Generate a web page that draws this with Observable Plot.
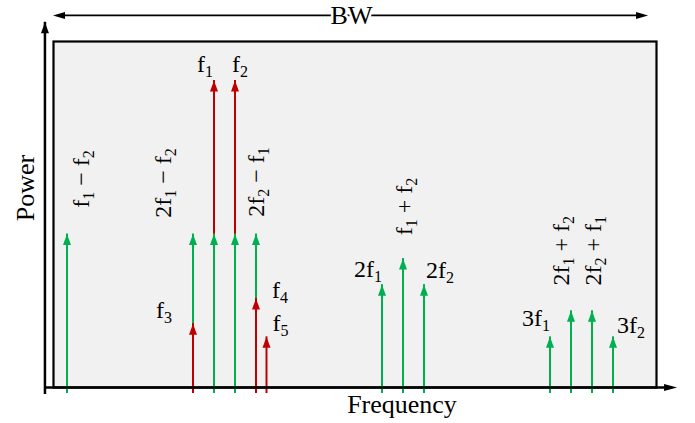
<!DOCTYPE html>
<html><head><meta charset="utf-8">
<script src="https://cdn.jsdelivr.net/npm/d3@7"></script>
<script src="https://cdn.jsdelivr.net/npm/@observablehq/plot@0.6"></script>
<style>body{margin:0;background:#fff}</style>
</head><body><div id="chart"></div>
<script>
// ---- data (schematic frequency units, relative power units) ----
const toneNames  = ["f_1", "f_2", "f_3", "f_4", "f_5"];
const toneFreq   = [8, 9, 7, 10, 10.5];
const tonePower  = [10, 10, 2.08, 2.9, 1.65];

const productNames = ["f_1 − f_2", "2f_1 − f_2", "", "", "2f_2 − f_1", "2f_1", "f_1 + f_2", "2f_2", "3f_1", "2f_1 + f_2", "2f_2 + f_1", "3f_2"];
const productFreq  = [1, 7, 8, 9, 10, 16, 17, 18, 24, 25, 26, 27];
const productPower = [5, 5, 5, 5, 5, 3.35, 4.2, 3.35, 1.65, 2.5, 2.5, 1.65];

const groups = ["product", "tone"];
const groupColors = ["#00b050", "#c00000"];

// ---- label layout (pixel offsets from arrow tip) ----
const labelLayout = {
  "f_1":        {dx: -17, dy: -8},
  "f_2":        {dx: -3,  dy: -8},
  "f_3":        {dx: -37, dy: -6},
  "f_4":        {dx: 16,  dy: 0},
  "f_5":        {dx: 6,   dy: -6},
  "2f_1":       {dx: -28, dy: -8},
  "2f_2":       {dx: 2,   dy: -7},
  "3f_1":       {dx: -28, dy: -11},
  "3f_2":       {dx: 4,   dy: -4},
  "f_1 − f_2":  {dx: 22,  dy: -55, rotate: true},
  "2f_1 − f_2": {dx: -22, dy: -51, rotate: true},
  "2f_2 − f_1": {dx: 8,   dy: -52, rotate: true},
  "f_1 + f_2":  {dx: 9,   dy: -52, rotate: true},
  "2f_1 + f_2": {dx: -2,  dy: -60, rotate: true},
  "2f_2 + f_1": {dx: 9,   dy: -60, rotate: true}
};

const arrows = [
  ...toneNames.map((n, i) => ({name: n, freq: toneFreq[i], power: tonePower[i], group: "tone"})),
  ...productNames.map((n, i) => ({name: n, freq: productFreq[i], power: productPower[i], group: "product"}))
].sort((a, b) => b.power - a.power);

// arrowhead symbols (tip at the anchor point)
function head(dir, len, hw) {
  return {draw(ctx) {
    if (dir === "up")    { ctx.moveTo(0, 0); ctx.lineTo(-hw, len); ctx.lineTo(hw, len); }
    if (dir === "right") { ctx.moveTo(0, 0); ctx.lineTo(-len, -hw); ctx.lineTo(-len, hw); }
    if (dir === "left")  { ctx.moveTo(0, 0); ctx.lineTo(len, -hw); ctx.lineTo(len, hw); }
    ctx.closePath();
  }};
}

const FONT = "Liberation Serif";

const labelMarks = arrows.filter(d => d.name && labelLayout[d.name]).map(d => {
  const L = labelLayout[d.name];
  return Plot.text([d], {
    x: "freq", y: "power", text: "name",
    dx: L.dx, dy: L.dy,
    rotate: L.rotate ? -90 : 0,
    textAnchor: L.rotate ? "middle" : "start",
    lineAnchor: "bottom",
    fontSize: 24, fontFamily: FONT, fill: "#000"
  });
});

// decorations in data units
const yAxis = [{x: -0.05, y1: -0.03, y2: 11.9}];
const xAxis = [{x1: -0.05, x2: 30.05, y: 0}];
const bw    = [{x1: 0.333, x2: 28.67, y: 12.12}];

const chart = Plot.plot({
  width: 695, height: 423,
  marginLeft: 53, marginRight: 39, marginTop: 41, marginBottom: 36,
  x: {domain: [0.35714, 29.0714], axis: null},
  y: {domain: [0, 11.27], axis: null},
  color: {domain: groups, range: groupColors},
  style: {background: "#fff", fontFamily: FONT, overflow: "visible"},
  marks: [
    Plot.frame({fill: "#f1f1f1", stroke: "#000", strokeWidth: 2.2}),
    Plot.ruleX(arrows, {x: "freq", y1: 0, y2: "power", stroke: "group", strokeWidth: 2, insetTop: 6}),
    Plot.dot(arrows, {x: "freq", y: "power", symbol: head("up", 11, 4), fill: "group", stroke: "none"}),
    // axes
    Plot.ruleX(yAxis, {x: "x", y1: "y1", y2: "y2", stroke: "#000", strokeWidth: 2.5, insetTop: 6}),
    Plot.dot(yAxis, {x: "x", y: "y2", symbol: head("up", 11, 4), fill: "#000", stroke: "none"}),
    Plot.ruleY(xAxis, {x1: "x1", x2: "x2", y: "y", stroke: "#000", strokeWidth: 2.5, insetRight: 6}),
    Plot.dot(xAxis, {x: "x2", y: "y", symbol: head("right", 13, 3.5), fill: "#000", stroke: "none"}),
    // BW bracket
    Plot.ruleY(bw, {x1: "x1", x2: "x2", y: "y", stroke: "#000", strokeWidth: 1.6, insetLeft: 6, insetRight: 6}),
    Plot.dot(bw, {x: "x1", y: "y", symbol: head("left", 12, 3.5), fill: "#000", stroke: "none"}),
    Plot.dot(bw, {x: "x2", y: "y", symbol: head("right", 12, 3.5), fill: "#000", stroke: "none"}),
    Plot.text(["BW"], {frameAnchor: "top", dx: -3.5, dy: -18, textAnchor: "middle", lineAnchor: "bottom", fontSize: 26, fontFamily: FONT, fill: "#000", stroke: "#fff", strokeWidth: 5}),
    Plot.text(["Frequency"], {frameAnchor: "bottom", dx: 47, dy: 25, textAnchor: "middle", lineAnchor: "bottom", fontSize: 26, fontFamily: FONT, fill: "#000"}),
    Plot.text(["Power"], {frameAnchor: "left", dx: -20, dy: -26.5, rotate: -90, textAnchor: "middle", lineAnchor: "bottom", fontSize: 26, fontFamily: FONT, fill: "#000"}),
    ...labelMarks
  ]
});

// turn "_d" into real subscripts
chart.querySelectorAll("text").forEach(t => {
  const s = t.textContent;
  if (!s.includes("_")) return;
  t.textContent = "";
  const parts = s.split(/_(\d)/);
  let shifted = false;
  parts.forEach((p, i) => {
    if (i % 2 === 1) {
      const ts = document.createElementNS("http://www.w3.org/2000/svg", "tspan");
      ts.setAttribute("font-size", "16");
      ts.setAttribute("dy", "5");
      ts.textContent = p;
      t.appendChild(ts);
      shifted = true;
    } else if (p) {
      const ts = document.createElementNS("http://www.w3.org/2000/svg", "tspan");
      if (shifted) ts.setAttribute("dy", "-5");
      ts.textContent = p;
      t.appendChild(ts);
      shifted = false;
    }
  });
});

document.getElementById("chart").appendChild(chart);
</script>
</body></html>
